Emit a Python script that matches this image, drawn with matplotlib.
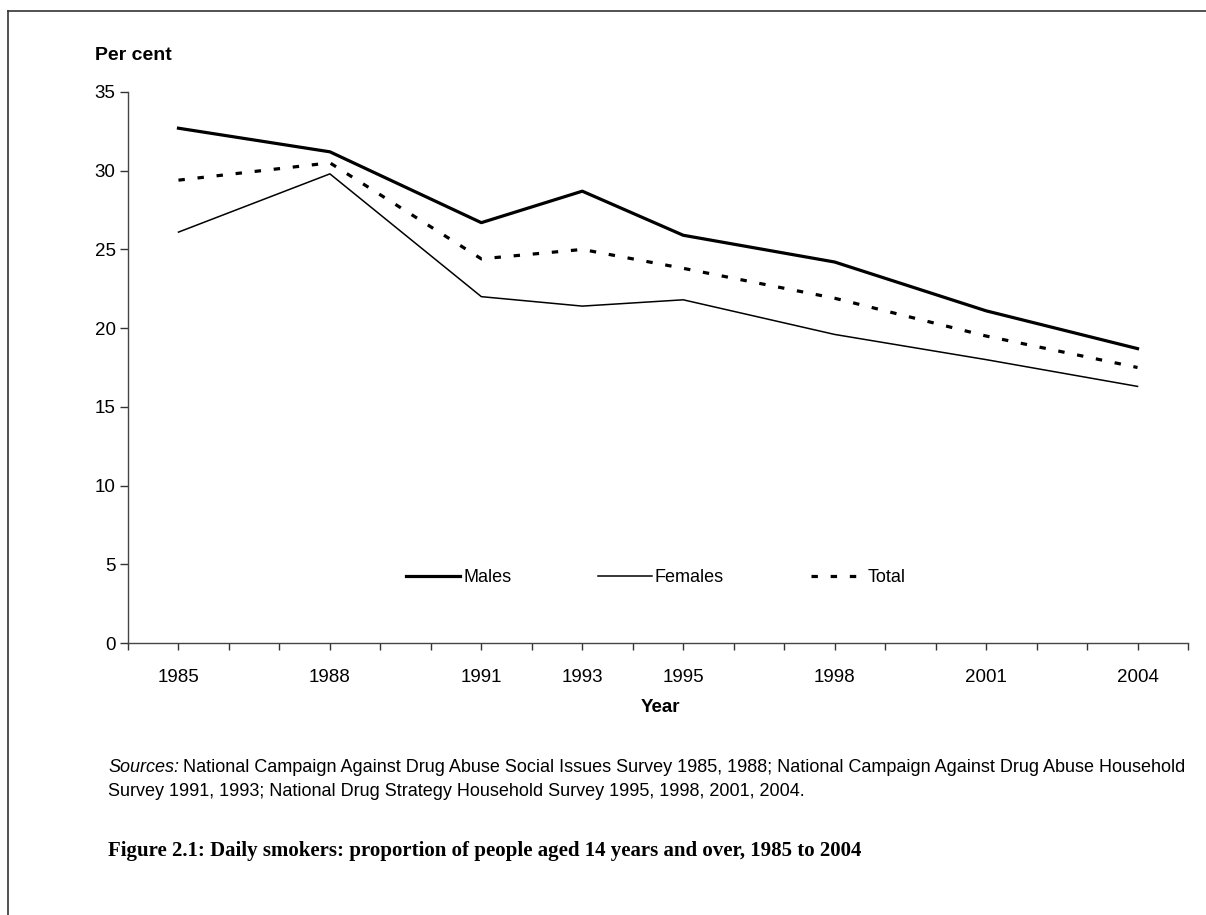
import matplotlib
matplotlib.use('Agg')
import matplotlib.pyplot as plt
from matplotlib.lines import Line2D

years = [1985, 1988, 1991, 1993, 1995, 1998, 2001, 2004]
males = [32.7, 31.2, 26.7, 28.7, 25.9, 24.2, 21.1, 18.7]
females = [26.1, 29.8, 22.0, 21.4, 21.8, 19.6, 18.0, 16.3]
total = [29.4, 30.5, 24.4, 25.0, 23.8, 21.9, 19.5, 17.5]
yticks = [0, 5, 10, 15, 20, 25, 30, 35]

plt.rcParams['font.family'] = ['Liberation Sans', 'DejaVu Sans']

W, H = 1206, 915
fig = plt.figure(figsize=(W / 100, H / 100), dpi=100)


def px(x, y):
    # pixel coords (from top-left) -> figure fraction
    return x / W, 1 - y / H


ax = fig.add_axes([128 / W, (H - 643) / H, (1188 - 128) / W, (643 - 92) / H])

ax.plot(years, males, color='black', lw=2.3, label='Males', solid_joinstyle='round')
ax.plot(years, females, color='black', lw=1.1, label='Females')
ax.plot(years, total, color='black', lw=2.3, dashes=(2, 4), dash_capstyle='butt',
        label='Total')

ax.set_xlim(1984, 2005)
ax.set_ylim(0, 35)
ax.set_yticks(yticks)
all_years = list(range(1984, 2006))
ax.set_xticks(all_years)
ax.set_xticklabels([str(y) if y in years else '' for y in all_years])
ax.tick_params(axis='x', direction='out', length=5, width=1, colors='#333333',
               labelcolor='black', labelsize=13.5, pad=14)
ax.tick_params(axis='y', direction='out', length=6, width=1, colors='#333333',
               labelcolor='black', labelsize=13.5, pad=3)
for s in ['top', 'right']:
    ax.spines[s].set_visible(False)
for s in ['left', 'bottom']:
    ax.spines[s].set_color('#444444')
    ax.spines[s].set_linewidth(1.0)

leg = ax.legend(loc='center', bbox_to_anchor=(0.498, 0.118), ncol=3, frameon=False,
                fontsize=13, handlelength=3.0, handletextpad=0.15, columnspacing=4.8)

fig.text(*px(95, 55), 'Per cent', fontsize=14, fontweight='bold', va='center', ha='left')
fig.text(*px(660, 707), 'Year', fontsize=13.5, fontweight='bold', va='center', ha='center')

# sources note
fig.canvas.draw()
r = fig.canvas.get_renderer()
t1 = fig.text(*px(108, 768), 'Sources:', fontsize=13, style='italic', va='center', ha='left')
bb = t1.get_window_extent(renderer=r)
fig.text((bb.x1 + 4) / W, 1 - 768 / H,
         'National Campaign Against Drug Abuse Social Issues Survey 1985, 1988; '
         'National Campaign Against Drug Abuse Household',
         fontsize=13, va='center', ha='left')
fig.text(*px(108, 791),
         'Survey 1991, 1993; National Drug Strategy Household Survey 1995, 1998, 2001, 2004.',
         fontsize=13, va='center', ha='left')

fig.text(*px(108, 851),
         'Figure 2.1: Daily smokers: proportion of people aged 14 years and over, 1985 to 2004',
         fontsize=15, fontweight='bold', family=['Liberation Serif', 'DejaVu Serif'],
         va='center', ha='left')

# frame lines
fig.add_artist(Line2D([8 / W, 8 / W], [0, 1 - 11 / H], transform=fig.transFigure,
                      color='#333333', lw=1.2))
fig.add_artist(Line2D([8 / W, 1], [1 - 11 / H, 1 - 11 / H], transform=fig.transFigure,
                      color='#333333', lw=1.2))

fig.savefig('out.png', dpi=100)
